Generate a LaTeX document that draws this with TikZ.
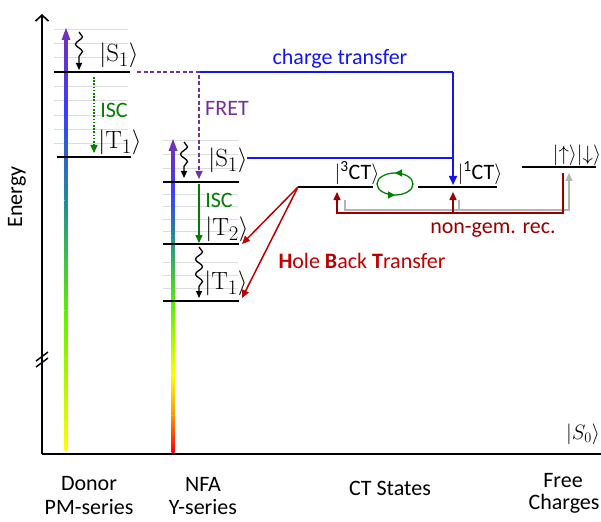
\documentclass[tikz,border=0pt]{standalone}
\usepackage[no-math]{fontspec}
\setmainfont{Carlito}
\usetikzlibrary{arrows.meta,decorations.pathmorphing,decorations.markings}
\definecolor{ctblue}{RGB}{20,20,245}
\definecolor{fretpurple}{RGB}{112,48,160}
\definecolor{iscgreen}{RGB}{0,128,0}
\definecolor{hbtred}{RGB}{192,0,0}
\definecolor{ngred}{RGB}{150,0,0}
\definecolor{vibgray}{RGB}{220,220,220}
\definecolor{recgray}{RGB}{180,180,180}
\definecolor{gpurple}{RGB}{110,50,190}
\definecolor{gblue}{RGB}{60,60,255}
\definecolor{gteal}{RGB}{30,140,150}
\definecolor{ggreen}{RGB}{90,240,0}
\definecolor{gyellow}{RGB}{255,255,0}
\definecolor{gorange}{RGB}{255,150,0}
\definecolor{gred}{RGB}{255,0,0}
\begin{document}
\begin{tikzpicture}[x=1pt,y=-1pt,
  every node/.style={font=\fontsize{22}{26}\selectfont, inner sep=0pt},
  ket/.style={font=\fontsize{24.88}{28}\selectfont},
  level/.style={line width=2.2pt},
  vib/.style={vibgray, line width=0.9pt},
  tri/.style={-{Triangle[length=8pt,width=7pt]}},
  wavy/.style={decorate, decoration={snake, amplitude=3.5pt, segment length=15pt, post length=8pt}, line width=1.3pt, -{Triangle[length=7pt,width=6pt]}},
]
\useasboundingbox (0,0) rectangle (601,521);

% axes
\coordinate (ax0) at (42,454);
\coordinate (axtop) at (42,14);
\coordinate (axright) at (601,454);
\draw[line width=1.6pt, -{Straight Barb[length=6pt,width=13pt]}] (ax0) -- (axtop);
\draw[line width=2pt] (ax0) -- (axright);
\draw[line width=1.4pt] (36,361) -- (48,352) (36,367) -- (48,358);

% donor vibrational lines
\foreach \y in {29,43,57,86,100,115,129,143} \draw[vib] (54,\y) -- (128,\y);
% NFA vibrational lines
\foreach \y in {140,154,168,194.4,206.8,219.2,231.6,262,275,288} \draw[vib] (163,\y) -- (238,\y);

% gradient bars
\shade[bottom color=gyellow, top color=ggreen] (64.5,450) rectangle (67.5,310);
\shade[bottom color=ggreen, top color=gteal] (64.5,310.5) rectangle (67.5,200);
\shade[bottom color=gteal, top color=gblue] (64.5,200.5) rectangle (67.5,110);
\shade[bottom color=gblue, top color=gpurple] (64.5,110.5) rectangle (67.5,39);
\fill[gpurple] (61.5,40) -- (66,28) -- (70.5,40) -- cycle;

\shade[bottom color=gred, top color=gorange] (171.5,452) rectangle (174.5,415);
\shade[bottom color=gorange, top color=gyellow] (171.5,415.5) rectangle (174.5,375);
\shade[bottom color=gyellow, top color=ggreen] (171.5,375.5) rectangle (174.5,305);
\shade[bottom color=ggreen, top color=gteal] (171.5,305.5) rectangle (174.5,235);
\shade[bottom color=gteal, top color=gblue] (171.5,235.5) rectangle (174.5,190);
\shade[bottom color=gblue, top color=gpurple] (171.5,190.5) rectangle (174.5,150);
\fill[gpurple] (168.5,151) -- (173,139) -- (177.5,151) -- cycle;

% levels
\draw[level] (54,72) coordinate (dS1l) -- (130,72) coordinate (dS1r);
\draw[level] (57,157) coordinate (dT1l) -- (131,157) coordinate (dT1r);
\draw[level] (163,182) coordinate (nS1l) -- (239,182) coordinate (nS1r);
\draw[level] (163,244) coordinate (nT2l) -- (239,244) coordinate (nT2r);
\draw[level] (163,301) coordinate (nT1l) -- (239,301) coordinate (nT1r);
\draw[level] (298,187) coordinate (ct3l) -- (373,187) coordinate (ct3r);
\draw[level] (418,187) coordinate (ct1l) -- (497,187) coordinate (ct1r);
\draw[level] (522,167) coordinate (fcl) -- (596,167) coordinate (fcr);

% relaxation
\coordinate (dw1a) at (79,32); \coordinate (dw1b) at (79,70);
\draw[wavy] (dw1a) -- (dw1b);
\coordinate (nw1a) at (184,142); \coordinate (nw1b) at (184,178);
\draw[wavy] (nw1a) -- (nw1b);
\coordinate (nw2a) at (199,247); \coordinate (nw2b) at (199,298);
\draw[wavy] (nw2a) -- (nw2b);

% ISC
\coordinate (disca) at (94,77); \coordinate (discb) at (94,153);
\draw[iscgreen, line width=1.5pt, dash pattern=on 1.6pt off 1.6pt, tri] (disca) -- (discb);
\coordinate (nisca) at (199,184); \coordinate (niscb) at (199,243);
\draw[iscgreen, line width=1.4pt, tri] (nisca) -- (niscb);

% FRET and charge transfer
\coordinate (fret0) at (137,72); \coordinate (fret1) at (199,72); \coordinate (fret2) at (199,179);
\coordinate (ctc) at (453,72); \coordinate (ctend) at (453,185);
\coordinate (ns1b) at (247,158); \coordinate (ns1c) at (453,158);
\draw[ctblue, line width=1.6pt] (fret1) -- (ctc);
\draw[ctblue, line width=1.6pt, -{Triangle[length=9pt,width=8pt]}] (ctc) -- (ctend);
\draw[ctblue, line width=1.6pt] (ns1b) -- (ns1c);
\draw[fretpurple, line width=1.4pt, dash pattern=on 4pt off 2.5pt, tri] (fret0) -- (fret1) -- (fret2);

% intersystem CT loop
\draw[iscgreen, line width=1.3pt, postaction={decorate, decoration={markings,
  mark=at position 0.25 with {\arrowreversed{Triangle[length=7pt,width=7pt]}},
  mark=at position 0.75 with {\arrowreversed{Triangle[length=7pt,width=7pt]}}}}]
  (395,184) ellipse [x radius=18, y radius=11];

% hole back transfer
\coordinate (hbt2) at (242,244); \coordinate (hbt1) at (242,298);
\draw[hbtred, line width=1.5pt, tri] (ct3l) -- (hbt2);
\draw[hbtred, line width=1.5pt, tri] (ct3l) -- (hbt1);

% non-geminate recombination
\coordinate (g1) at (345,200); \coordinate (g2) at (345,210); \coordinate (g3) at (569,210); \coordinate (g4) at (569,173);
\coordinate (g5) at (459,200); \coordinate (g6) at (459,210);
\draw[recgray, line width=1.5pt, tri] (g1) -- (g2) -- (g3) -- (g4);
\draw[recgray, line width=1.5pt] (g5) -- (g6);
\coordinate (r1) at (563,173); \coordinate (r2) at (563,213); \coordinate (r3) at (337,213); \coordinate (r4) at (337,192);
\coordinate (r5) at (453,213); \coordinate (r6) at (453,192);
\draw[ngred, line width=1.5pt, tri] (r1) -- (r2) -- (r3) -- (r4);
\draw[ngred, line width=1.5pt, tri] (r5) -- (r6);

% labels
\node[ket] (lbdS1) at (119,55) {$|\mathrm{S}_1\rangle$};
\node[ket] (lbdT1) at (120,142) {$|\mathrm{T}_1\rangle$};
\node[text=iscgreen] (lbdisc) at (114,110) {ISC};
\node[ket] (lbnS1) at (228,160) {$|\mathrm{S}_1\rangle$};
\node[ket] (lbnT2) at (227,229) {$|\mathrm{T}_2\rangle$};
\node[ket] (lbnT1) at (226,283) {$|\mathrm{T}_1\rangle$};
\node[text=iscgreen] (lbnisc) at (219,200) {ISC};
\node[text=fretpurple] (lbfret) at (227,108) {FRET};
\node[text=ctblue] (lbct) at (340,59) {charge transfer};
\node (lb3ct) at (357,173) {$|$\textsuperscript{3}CT$\rangle$};
\node (lb1ct) at (480,173) {$|$\textsuperscript{1}CT$\rangle$};
\node (lbfc) at (577,155) {$|{\uparrow}\rangle|{\downarrow}\rangle$};
\node[text=hbtred] (lbhbt) at (362,261) {\textbf{H}ole \textbf{B}ack \textbf{T}ransfer};
\node[text=ngred] (lbng) at (493,230) {non-gem. rec.};
\node (lbS0) at (583,434) {$|S_0\rangle$};
\node (lbdon) at (89,484) {Donor};
\node (lbpm) at (89,507) {PM-series};
\node (lbnfa) at (203,484) {NFA};
\node (lby) at (203,507) {Y-series};
\node (lbcts) at (390,488) {CT States};
\node (lbfree) at (563,481) {Free};
\node (lbchg) at (564,504) {Charges};
\node[rotate=90] (lben) at (17,197) {Energy};
\end{tikzpicture}
\end{document}
